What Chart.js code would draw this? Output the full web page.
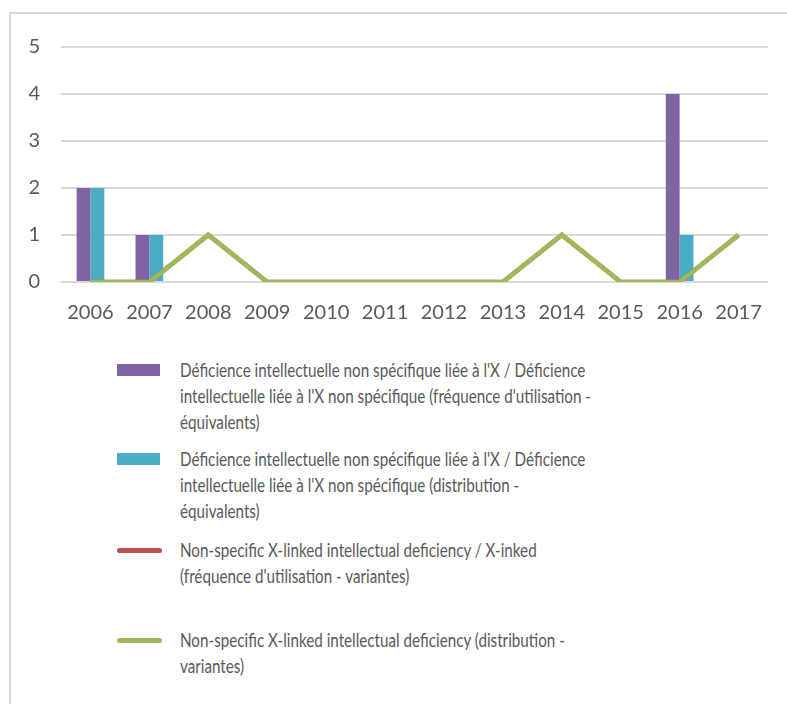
<!DOCTYPE html>
<html>
<head>
<meta charset="utf-8">
<script src="https://cdn.jsdelivr.net/npm/chart.js@4.4.0/dist/chart.umd.min.js"></script>
<style>
  body { margin: 0; background: #fff; }
  #frame {
    position: absolute; left: 9px; top: 12px; width: 800px; height: 720px;
    border: 2px solid #d9d9d9; box-sizing: border-box;
  }
  #wrap { position: absolute; left: 0; top: 0; width: 787px; height: 330px; }
  #legend { position: absolute; left: 117px; top: 0; font-family: Lato, sans-serif; font-size: 18.5px; color: #595959; }
  .item { position: absolute; left: 0; white-space: nowrap; }
  .sw { position: absolute; left: 0; }
  .txt { position: absolute; left: 63px; top: 0; line-height: 26px; transform: scaleX(0.822); transform-origin: 0 0; }
</style>
</head>
<body>
<div id="frame"></div>
<div id="wrap"><canvas id="myChart"></canvas></div>
<div id="legend"></div>
<script>
var years = ['2006','2007','2008','2009','2010','2011','2012','2013','2014','2015','2016','2017']
var freqEquiv = [2, 1, 0, 0, 0, 0, 0, 0, 0, 0, 4, 0]
var distEquiv = [2, 1, 0, 0, 0, 0, 0, 0, 0, 0, 1, 0]
var freqVar = [0, 0, 1, 0, 0, 0, 0, 0, 1, 0, 0, 1]
var distVar = [0, 0, 1, 0, 0, 0, 0, 0, 1, 0, 0, 1]
var labels = [
  "Déficience intellectuelle non spécifique liée à l'X / Déficience<br>intellectuelle liée à l'X non spécifique (fréquence d'utilisation -<br>équivalents)",
  "Déficience intellectuelle non spécifique liée à l'X / Déficience<br>intellectuelle liée à l'X non spécifique (distribution -<br>équivalents)",
  "Non-specific X-linked intellectual deficiency / X-inked<br>(fréquence d'utilisation - variantes)",
  "Non-specific X-linked intellectual deficiency (distribution -<br>variantes)"
]
var colors = ['#8064a2', '#4bacc6', '#c0504d', '#9bbb59']

const ctx = document.getElementById('myChart');
new Chart(ctx, {
  data: {
    labels: years,
    datasets: [
      { type: 'bar', label: 'freq equiv', data: freqEquiv, backgroundColor: colors[0], order: 2 },
      { type: 'bar', label: 'dist equiv', data: distEquiv, backgroundColor: colors[1], order: 2 },
      { type: 'line', label: 'freq var', data: freqVar, borderColor: colors[2], borderWidth: 4.5, pointRadius: 0, order: 1 },
      { type: 'line', label: 'dist var', data: distVar, borderColor: colors[3], borderWidth: 4.5, pointRadius: 0, order: 0 }
    ]
  },
  options: {
    responsive: true,
    maintainAspectRatio: false,
    animation: false,
    layout: { padding: { top: 47, right: 19, left: 0, bottom: 0 } },
    datasets: { bar: { categoryPercentage: 0.47, barPercentage: 1 } },
    plugins: { legend: { display: false }, tooltip: { enabled: false } },
    scales: {
      x: {
        grid: { display: false, drawTicks: false },
        border: { display: false },
        ticks: { color: '#595959', padding: 19, font: { family: 'Lato', size: 20 } },
        afterFit: function(s) { s.height = 48 }
      },
      y: {
        min: 0, max: 5,
        grid: { color: '#d9d9d9', lineWidth: 2, drawTicks: false },
        border: { display: false },
        ticks: { stepSize: 1, color: '#595959', padding: 21, font: { family: 'Lato', size: 20 } },
        afterFit: function(s) { s.width = 61 }
      }
    }
  }
});

// legend built from the same labels and colours
var leg = document.getElementById('legend')
var tops = [357, 446, 537, 627]
labels.forEach(function(t, i) {
  var d = document.createElement('div')
  d.className = 'item'
  d.style.top = tops[i] + 'px'
  var sw = document.createElement('div')
  sw.className = 'sw'
  sw.style.background = colors[i]
  if (i < 2) {
    sw.style.width = '43px'; sw.style.height = '12px'; sw.style.top = '7px'
  } else {
    sw.style.width = '45px'; sw.style.height = '5px'; sw.style.top = '11px'; sw.style.borderRadius = '3px'
  }
  var tx = document.createElement('div')
  tx.className = 'txt'
  tx.innerHTML = t
  d.appendChild(sw)
  d.appendChild(tx)
  leg.appendChild(d)
})
</script>
</body>
</html>
